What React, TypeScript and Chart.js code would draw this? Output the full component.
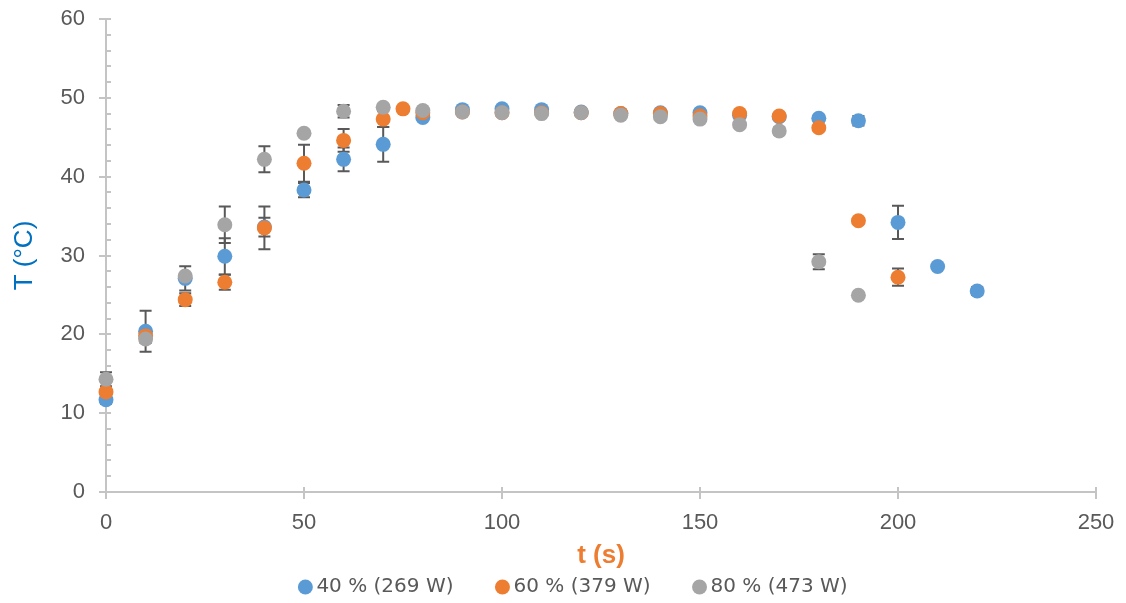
import React, { useEffect, useRef } from 'react';
import { Chart, registerables } from 'chart.js';

Chart.register(...registerables);

// ---- data ----
const t40 = [0, 10, 20, 30, 40, 50, 60, 70, 80, 90, 100, 110, 120, 130, 140, 150, 160, 170, 180, 190, 200, 210, 220];
const v40 = [11.7, 20.4, 27.1, 29.9, 33.6, 38.3, 42.2, 44.1, 47.5, 48.5, 48.6, 48.5, 48.2, 48.0, 48.1, 48.1, 47.8, 47.6, 47.4, 47.1, 34.2, 28.6, 25.5];
const e40 = [0.5, 2.6, 1.55, 2.3, 1.2, 0.9, 1.5, 2.2, 0.3, 0.3, 0.3, 0.3, 0.3, 0.3, 0.3, 0.4, 0.3, 0.3, 0.3, 0.6, 2.1, 0.3, 0.5];

const t60 = [0, 10, 20, 30, 40, 50, 60, 70, 75, 80, 90, 100, 110, 120, 130, 140, 150, 160, 170, 180, 190, 200];
const v60 = [12.7, 19.8, 24.4, 26.6, 33.5, 41.7, 44.6, 47.3, 48.6, 48.1, 48.2, 48.1, 48.1, 48.1, 48.0, 48.0, 47.7, 48.0, 47.7, 46.2, 34.4, 27.25];
const e60 = [0.4, 0.5, 0.8, 0.95, 2.7, 2.35, 1.45, 1.0, 0.3, 0.3, 0.3, 0.3, 0.3, 0.3, 0.3, 0.3, 0.3, 0.3, 0.3, 0.3, 0.3, 1.1];

const t80 = [0, 10, 20, 30, 40, 50, 60, 70, 80, 90, 100, 110, 120, 130, 140, 150, 160, 170, 180, 190];
const v80 = [14.3, 19.4, 27.4, 33.9, 42.2, 45.5, 48.3, 48.8, 48.4, 48.2, 48.1, 48.0, 48.1, 47.8, 47.6, 47.3, 46.6, 45.8, 29.2, 24.95];
const e80 = [0.9, 0.5, 0.3, 2.3, 1.65, 0.3, 0.8, 0.3, 0.3, 0.3, 0.3, 0.3, 0.3, 0.3, 0.3, 0.3, 0.3, 0.45, 0.95, 0.3];

const seriesLabels = ['40 % (269 W)', '60 % (379 W)', '80 % (473 W)'];
const seriesColors = ['#5B9BD5', '#ED7D31', '#A5A5A5'];

const xTickValues = [0, 50, 100, 150, 200, 250];
const yTickLabels = [0, 10, 20, 30, 40, 50, 60];
const yMinorStep = 2;

const xTitle = 't (s)';
const yTitle = 'T (°C)';

// ---- styles ----
const FONT = "'Liberation Sans', Arial, sans-serif";
const TEXT = '#595959';
const AXIS = '#C4C4C4';

const toPoints = (ts: number[], vs: number[], es: number[]) =>
  ts.map((t, i) => ({ x: t, y: vs[i], e: es[i] }));

const axisTicksPlugin = {
  id: 'axisTicks',
  beforeDatasetsDraw(chart: any) {
    const { ctx, chartArea, scales } = chart;
    const xs = scales.x;
    const ys = scales.y;
    ctx.save();
    ctx.strokeStyle = AXIS;
    ctx.lineWidth = 2;
    ctx.beginPath();
    ys.ticks.forEach((tk: any) => {
      const py = Math.round(ys.getPixelForValue(tk.value));
      const major = yTickLabels.includes(tk.value);
      ctx.moveTo(chartArea.left - (major ? 7 : 0), py);
      ctx.lineTo(chartArea.left + 5, py);
    });
    xs.ticks.forEach((tk: any) => {
      const px = Math.round(xs.getPixelForValue(tk.value));
      ctx.moveTo(px, chartArea.bottom - 5);
      ctx.lineTo(px, chartArea.bottom + 7);
    });
    ctx.stroke();
    ctx.restore();
  },
};

const errorBarsPlugin = {
  id: 'errorBars',
  beforeDatasetsDraw(chart: any) {
    const { ctx, scales } = chart;
    const xs = scales.x;
    const ys = scales.y;
    ctx.save();
    ctx.strokeStyle = '#595959';
    ctx.lineWidth = 2;
    chart.data.datasets.forEach((ds: any) => {
      ds.data.forEach((p: any) => {
        if (!p.e) return;
        const px = xs.getPixelForValue(p.x);
        const top = ys.getPixelForValue(p.y + p.e);
        const bot = ys.getPixelForValue(p.y - p.e);
        ctx.beginPath();
        ctx.moveTo(px, top);
        ctx.lineTo(px, bot);
        ctx.moveTo(px - 6, top);
        ctx.lineTo(px + 6, top);
        ctx.moveTo(px - 6, bot);
        ctx.lineTo(px + 6, bot);
        ctx.stroke();
      });
    });
    ctx.restore();
  },
};

export default function App() {
  const ref = useRef<HTMLCanvasElement>(null);

  useEffect(() => {
    document.body.style.margin = '0';
    const datasets = [
      { pts: toPoints(t40, v40, e40), order: 3 },
      { pts: toPoints(t60, v60, e60), order: 2 },
      { pts: toPoints(t80, v80, e80), order: 1 },
    ].map((d, i) => ({
      label: seriesLabels[i],
      data: d.pts,
      order: d.order,
      backgroundColor: seriesColors[i],
      borderColor: seriesColors[i],
      borderWidth: 0,
      pointRadius: 7.5,
      pointHoverRadius: 7.5,
      pointStyle: 'circle',
      showLine: false,
      clip: false as any,
    }));

    const chart = new Chart(ref.current as HTMLCanvasElement, {
      type: 'scatter',
      data: { datasets } as any,
      plugins: [axisTicksPlugin, errorBarsPlugin],
      options: {
        animation: false,
        responsive: false,
        maintainAspectRatio: false,
        layout: { padding: { left: 56, right: 30, top: 19, bottom: -4 } },
        scales: {
          x: {
            type: 'linear',
            min: 0,
            max: 250,
            afterBuildTicks: (s: any) => {
              s.ticks = xTickValues.map((v) => ({ value: v }));
            },
            afterFit: (s: any) => {
              s.height = 37;
              s.paddingLeft = 0;
              s.paddingRight = 0;
            },
            grid: { display: false, drawTicks: false },
            border: { display: true, color: AXIS, width: 2 },
            ticks: {
              color: TEXT,
              font: { family: FONT, size: 22 },
              padding: 18,
              maxRotation: 0,
              autoSkip: false,
            },
            title: {
              display: true,
              text: xTitle,
              color: '#ED7D31',
              font: { family: FONT, size: 26, weight: 'bold' },
              padding: { top: 0, bottom: -42.6 },
            },
          },
          y: {
            type: 'linear',
            min: 0,
            max: 60,
            afterBuildTicks: (s: any) => {
              const ticks: any[] = [];
              const lo = yTickLabels[0];
              const hi = yTickLabels[yTickLabels.length - 1];
              for (let v = lo; v <= hi; v += yMinorStep) ticks.push({ value: v });
              s.ticks = ticks;
            },
            afterFit: (s: any) => {
              s.width = 50;
              s.paddingTop = 0;
              s.paddingBottom = 0;
            },
            grid: { display: false, drawTicks: false },
            border: { display: true, color: AXIS, width: 2 },
            ticks: {
              color: TEXT,
              font: { family: FONT, size: 22 },
              padding: 21,
              autoSkip: false,
              callback: (v: any) => (yTickLabels.includes(Number(v)) ? String(v) : ''),
            },
            title: {
              display: true,
              text: yTitle,
              color: '#0070C0',
              font: { family: FONT, size: 26 },
              padding: { top: -46.6, bottom: 0 },
            },
          },
        },
        plugins: {
          tooltip: { enabled: false },
          legend: {
            position: 'bottom',
            fullSize: true,
            labels: {
              usePointStyle: true,
              boxWidth: 2,
              boxHeight: 10.6,
              padding: 48,
              color: TEXT,
              font: { family: "'DejaVu Sans', sans-serif", size: 20 },
              sort: (a: any, b: any) => a.datasetIndex - b.datasetIndex,
            },
          },
        },
      } as any,
    });
    return () => chart.destroy();
  }, []);

  return (
    <div style={{ width: 1126, height: 603 }}>
      <canvas ref={ref} width={1126} height={603} style={{ display: 'block' }} />
    </div>
  );
}
